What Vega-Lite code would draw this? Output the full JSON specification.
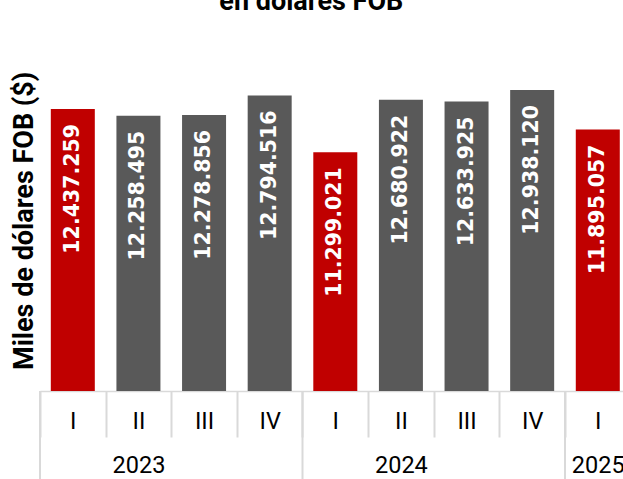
{
  "$schema": "https://vega.github.io/schema/vega-lite/v6.json",
  "autosize": {"type": "none"},
  "width": 590.6,
  "height": 341.3,
  "padding": {"left": 40, "top": 49.7, "right": -7.6, "bottom": 88},
  "background": "white",
  "title": {
    "text": "en dólares FOB",
    "font": "Roboto",
    "fontWeight": "bold",
    "fontSize": 27,
    "color": "#000000",
    "baseline": "alphabetic",
    "anchor": "middle",
    "offset": 13,
    "dx": -24
  },
  "config": {
    "view": {"stroke": null}
  },
  "data": {
    "values": [
      {"key": "2023-I", "anio": "2023", "trim": "I", "valor": 12437259, "etiqueta": "12.437.259"},
      {"key": "2023-II", "anio": "2023", "trim": "II", "valor": 12258495, "etiqueta": "12.258.495"},
      {"key": "2023-III", "anio": "2023", "trim": "III", "valor": 12278856, "etiqueta": "12.278.856"},
      {"key": "2023-IV", "anio": "2023", "trim": "IV", "valor": 12794516, "etiqueta": "12.794.516"},
      {"key": "2024-I", "anio": "2024", "trim": "I", "valor": 11299021, "etiqueta": "11.299.021"},
      {"key": "2024-II", "anio": "2024", "trim": "II", "valor": 12680922, "etiqueta": "12.680.922"},
      {"key": "2024-III", "anio": "2024", "trim": "III", "valor": 12633925, "etiqueta": "12.633.925"},
      {"key": "2024-IV", "anio": "2024", "trim": "IV", "valor": 12938120, "etiqueta": "12.938.120"},
      {"key": "2025-I", "anio": "2025", "trim": "I", "valor": 11895057, "etiqueta": "11.895.057"}
    ]
  },
  "encoding": {
    "x": {
      "field": "key", "type": "nominal", "sort": null,
      "scale": {"paddingInner": 0, "paddingOuter": 0},
      "axis": {
        "orient": "bottom", "title": null, "grid": false,
        "labelExpr": "datum.value == null ? '' : datum.value == '2023-II' ? ['II', '\u00a0\u00a0\u00a0\u00a0\u00a0\u00a0\u00a0\u00a0\u00a0\u00a0\u00a02023'] : datum.value == '2024-II' ? ['II', '\u00a0\u00a0\u00a0\u00a0\u00a0\u00a0\u00a0\u00a0\u00a0\u00a0\u00a02024'] : datum.value == '2025-I' ? ['I', '2025'] : datum.value == '2023-I' || datum.value == '2024-I' ? 'I' : datum.value == '2023-III' || datum.value == '2024-III' ? 'III' : datum.value == '2023-IV' || datum.value == '2024-IV' ? 'IV' : ''",
        "tickBand": "extent", "tickSize": 46, "tickColor": "#d9d9d9", "tickWidth": 2,
        "domainColor": "#d9d9d9", "domainWidth": 1.5,
        "labelFont": "Roboto", "labelFontSize": 23.5, "labelColor": "#000000",
        "labelBaseline": "alphabetic", "labelPadding": -8.5, "labelLineHeight": 43.5, "labelAngle": 0,
        "labelOverlap": false
      }
    }
  },
  "layer": [
    {
      "mark": {"type": "bar", "width": 44},
      "encoding": {
        "y": {
          "field": "valor", "type": "quantitative",
          "scale": {"domain": [5000000, 14000000], "zero": false, "nice": false},
          "axis": {
            "title": "Miles de dólares FOB ($)",
            "titleFont": "Roboto", "titleFontWeight": "bold", "titleFontSize": 27, "titleColor": "#000000",
            "titlePadding": 2,
            "labels": false, "ticks": false, "domain": false, "grid": false
          }
        },
        "y2": {"datum": 5000000},
        "color": {
          "field": "trim", "type": "nominal",
          "scale": {"domain": ["I", "II", "III", "IV"], "range": ["#c00000", "#595959", "#595959", "#595959"]},
          "legend": null
        }
      }
    },
    {
      "mark": {
        "type": "text", "angle": 270, "align": "right", "baseline": "middle", "dx": -15,
        "font": "DejaVu Sans", "fontWeight": "bold", "fontSize": 20.5, "color": "#ffffff"
      },
      "encoding": {
        "y": {"field": "valor", "type": "quantitative"},
        "text": {"field": "etiqueta", "type": "nominal"}
      }
    },
    {
      "transform": [{"filter": "datum.trim == 'I'"}],
      "mark": {"type": "rule", "color": "#d9d9d9", "strokeWidth": 2},
      "encoding": {
        "x": {"field": "key", "type": "nominal", "bandPosition": 0},
        "y": {"datum": 5000000},
        "y2": {"datum": 2600000}
      }
    }
  ]
}
